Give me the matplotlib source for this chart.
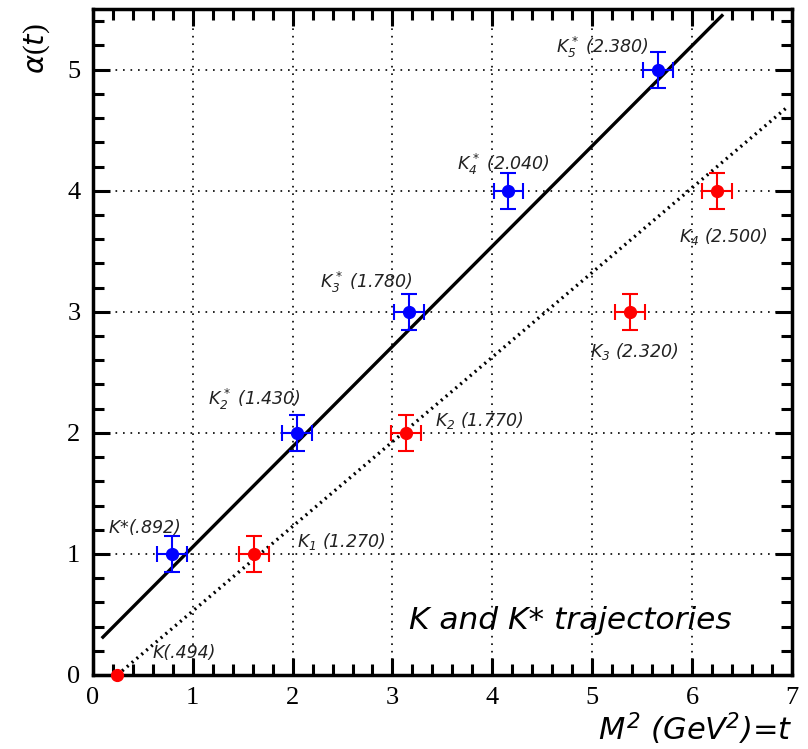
import matplotlib
matplotlib.use("Agg")
import matplotlib.pyplot as plt
from matplotlib.ticker import MultipleLocator
import numpy as np

# Data
kstar_m2 = [0.796, 2.045, 3.168, 4.162, 5.664]
kstar_j = [1, 2, 3, 4, 5]
kstar_labels = [r"$K$*(.892)", r"$K_2^*$ (1.430)", r"$K_3^*$ (1.780)", r"$K_4^*$ (2.040)", r"$K_5^*$ (2.380)"]
kstar_label_pos = [(0.15, 1.22), (1.15, 2.28), (2.27, 3.24), (3.65, 4.22), (4.64, 5.18)]

k_m2 = [1.613, 3.133, 5.382, 6.25]
k_j = [1, 2, 3, 4]
k_labels = [r"$K_1$ (1.270)", r"$K_2$ (1.770)", r"$K_3$ (2.320)", r"$K_4$ (2.500)"]
k_label_pos = [(2.04, 1.10), (3.43, 2.10), (4.98, 2.67), (5.87, 3.62)]

k0_m2 = [0.244]
k0_j = [0]

x_err = 0.15
y_err = 0.15

solid_x = [0.10, 6.30]
solid_slope, solid_int = 0.828, 0.23
dotted_x = [0.244, 6.95]
dotted_slope, dotted_x0 = 0.699, 0.244

plt.rcParams['mathtext.fontset'] = 'custom'
plt.rcParams['mathtext.it'] = 'DejaVu Sans:italic'
plt.rcParams['mathtext.rm'] = 'DejaVu Sans:italic'

fig = plt.figure(figsize=(8.08, 7.49), dpi=100)
ax = fig.add_axes([0.115, 0.0988, 0.865, 0.889])

ax.set_xlim(0, 7)
ax.set_ylim(0, 5.5)

# grid
for gx in range(1, 7):
    ax.axvline(gx, color='black', lw=1.2, ls=(0, (1, 3.5)), zorder=1)
for gy in range(1, 6):
    ax.axhline(gy, color='black', lw=1.2, ls=(0, (1, 3.5)), zorder=1)

# lines
sx = np.array(solid_x)
ax.plot(sx, solid_slope * sx + solid_int, color='black', lw=2.4, zorder=2)
dx = np.array(dotted_x)
ax.plot(dx, dotted_slope * (dx - dotted_x0), color='black', lw=2.4, ls=(0, (0.6, 1.3)), zorder=2)

# points
ax.errorbar(kstar_m2, kstar_j, xerr=x_err, yerr=y_err, fmt='o', color='blue', ms=8.5,
            elinewidth=1.5, capsize=5.5, capthick=1.5, zorder=3)
ax.errorbar(k_m2, k_j, xerr=x_err, yerr=y_err, fmt='o', color='red', ms=8.5,
            elinewidth=1.5, capsize=5.5, capthick=1.5, zorder=3)
ax.plot(k0_m2, k0_j, 'o', color='red', ms=8.5, clip_on=False, zorder=5)

tcol = '#222222'
lfs = 12.5
for lab, (lx, ly) in zip(kstar_labels, kstar_label_pos):
    ax.text(lx, ly, lab, fontsize=lfs, style='italic', color=tcol, va='center', ha='left')
for lab, (lx, ly) in zip(k_labels, k_label_pos):
    ax.text(lx, ly, lab, fontsize=lfs, style='italic', color=tcol, va='center', ha='left')
ax.text(0.6, 0.18, "K(.494)", fontsize=lfs, style='italic', color=tcol, va='center', ha='left')
ax.text(3.17, 0.45, "K and K* trajectories", fontsize=22.5, style='italic', color='black',
        va='center', ha='left')

# axes styling
for sp in ax.spines.values():
    sp.set_linewidth(2.5)
ax.xaxis.set_major_locator(MultipleLocator(1))
ax.xaxis.set_minor_locator(MultipleLocator(0.2))
ax.yaxis.set_major_locator(MultipleLocator(1))
ax.yaxis.set_minor_locator(MultipleLocator(0.2))
ax.tick_params(which='both', direction='in', top=True, right=True, width=2.2)
ax.tick_params(which='major', length=12, labelsize=19, pad=9)
ax.tick_params(which='minor', length=8)

ax.set_xticks(range(0, 8))
ax.set_xticklabels([str(i) for i in range(0, 8)], fontfamily='Liberation Serif', fontsize=19)
ax.set_yticks(range(0, 6))
ax.set_yticklabels([str(i) for i in range(0, 6)], fontfamily='Liberation Serif', fontsize=19)

fig.text(0.981, 0.003, r"$M^2$ (GeV$^2$)=$t$", fontsize=22, style='italic', ha='right', va='bottom')
fig.text(0.045, 0.935, r"$\alpha$($t$)", fontsize=21, rotation=90, ha='center', va='center',
         fontfamily='Liberation Serif')

fig.savefig("out.png", dpi=100)
